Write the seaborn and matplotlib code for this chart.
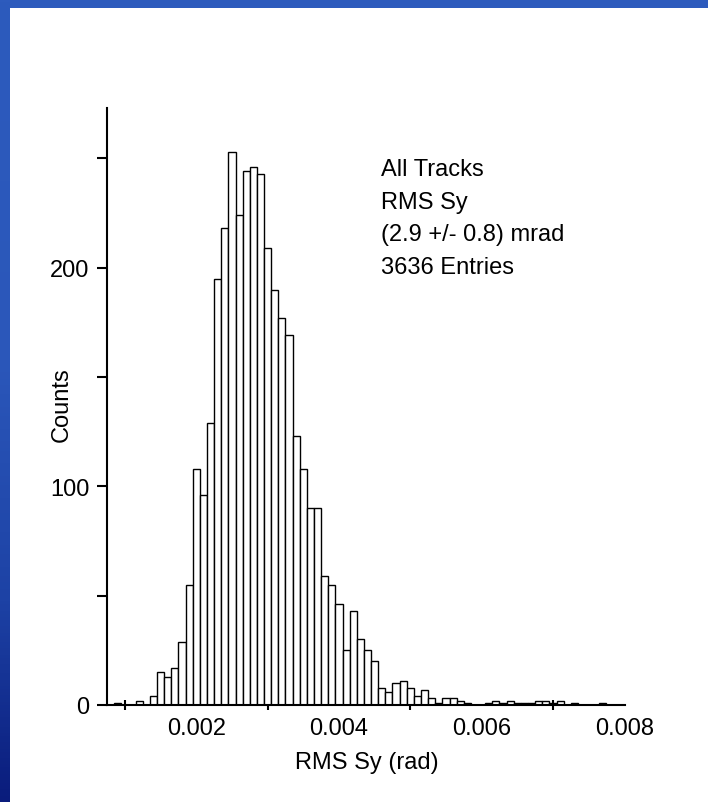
import numpy as np
import pandas as pd
import matplotlib
matplotlib.use("Agg")
import matplotlib.pyplot as plt
import seaborn as sns
from matplotlib.colors import LinearSegmentedColormap
from matplotlib.ticker import FixedLocator

# Histogram of RMS Sy per track: bin grid and counts per bin
bin_width = 0.0001
first_center = 0.0009
counts = [1, 0, 0, 2, 0, 4, 15, 13, 17, 29, 55, 108, 96, 129,
          195, 218, 253, 224, 244, 246, 243, 209, 190, 177, 169,
          123, 108, 90, 90, 59, 55, 46, 25, 43, 30, 25, 20, 8, 6, 10,
          11, 8, 4, 7, 3, 1, 3, 3, 2,
          1, 0, 0, 1, 2, 1, 2, 1, 1, 1, 2, 2, 1, 2, 0, 1, 0, 0, 0, 1]

x_ticklabels = ["0.002", "0.004", "0.006", "0.008"]
x_major = [0.002, 0.004, 0.006, 0.008]
x_minor = [0.001, 0.003, 0.005, 0.007]
y_major = [0, 100, 200]
y_minor = [50, 150, 250]

info_lines = ["All Tracks", "RMS Sy", "(2.9 +/- 0.8) mrad", "3636 Entries"]

n_bins = len(counts)
centers = first_center + bin_width * np.arange(n_bins)
hist_df = pd.DataFrame({"rms_sy": centers, "n": np.asarray(counts, dtype=float)})
bin_range = (first_center - bin_width / 2, first_center + bin_width * (n_bins - 0.5))

sns.set_style("ticks")
plt.rcParams["font.family"] = ["Liberation Sans", "DejaVu Sans"]
plt.rcParams.update({"text.color": "black", "axes.labelcolor": "black",
                     "xtick.color": "black", "ytick.color": "black"})
FS = 17

W, H = 708, 803
fig = plt.figure(figsize=(W / 100, H / 100), dpi=100)
fig.patch.set_facecolor("white")

# framing bands: flat top band, shaded left band
top = fig.add_axes([0, 1 - 9 / H, 1, 9 / H])
top.set_facecolor("#2d5bbd")
top.set_xticks([]); top.set_yticks([])
for s in top.spines.values():
    s.set_visible(False)

band_cmap = LinearSegmentedColormap.from_list(
    "band", [(0.0, "#2d5bbd"), (0.45, "#2b57ba"), (0.75, "#1d42a5"), (1.0, "#0a1c7c")])
left = fig.add_axes([0, 0, 10 / W, 1])
left.imshow(np.linspace(0, 1, 256).reshape(-1, 1), aspect="auto", cmap=band_cmap,
            extent=[0, 1, 1, 0])
left.axis("off")

ax = fig.add_axes([107 / W, 1 - 706 / H, (625 - 107) / W, (706 - 109) / H])
sns.histplot(data=hist_df, x="rms_sy", weights="n", binwidth=bin_width,
             binrange=bin_range, ax=ax, color="white",
             edgecolor="black", linewidth=1.0, alpha=1.0)

ax.set_xlim(0.000748, 0.00801)
ax.set_ylim(0, 273)
sns.despine(ax=ax)
for s in ["left", "bottom"]:
    ax.spines[s].set_linewidth(1.5)
    ax.spines[s].set_color("black")

ax.xaxis.set_major_locator(FixedLocator(x_major))
ax.set_xticklabels(x_ticklabels)
ax.xaxis.set_minor_locator(FixedLocator(x_minor))
ax.tick_params(axis="x", which="major", length=0, pad=8.5, labelsize=FS,
               colors="black")
ax.tick_params(axis="x", which="minor", direction="inout", length=7, width=1.5,
               colors="black")

ax.yaxis.set_major_locator(FixedLocator(y_major))
ax.yaxis.set_minor_locator(FixedLocator(y_minor))
ax.tick_params(axis="y", which="both", direction="out", length=7.5, width=1.5,
               colors="black")
ax.tick_params(axis="y", which="major", pad=5, labelsize=FS)

ax.set_xlabel("")
ax.set_ylabel("")
fig.text(367 / W, 1 - 763 / H, "RMS Sy (rad)", ha="center", va="center",
         fontsize=FS, color="black")
fig.text(62 / W, 1 - 405 / H, "Counts", ha="center", va="center", rotation=90,
         fontsize=FS, color="black")

for i, line in enumerate(info_lines):
    fig.text(381 / W, 1 - (170 + 32.5 * i) / H, line, ha="left", va="center",
             fontsize=FS, color="black")

fig.savefig("out.png", dpi=100, facecolor="white")
